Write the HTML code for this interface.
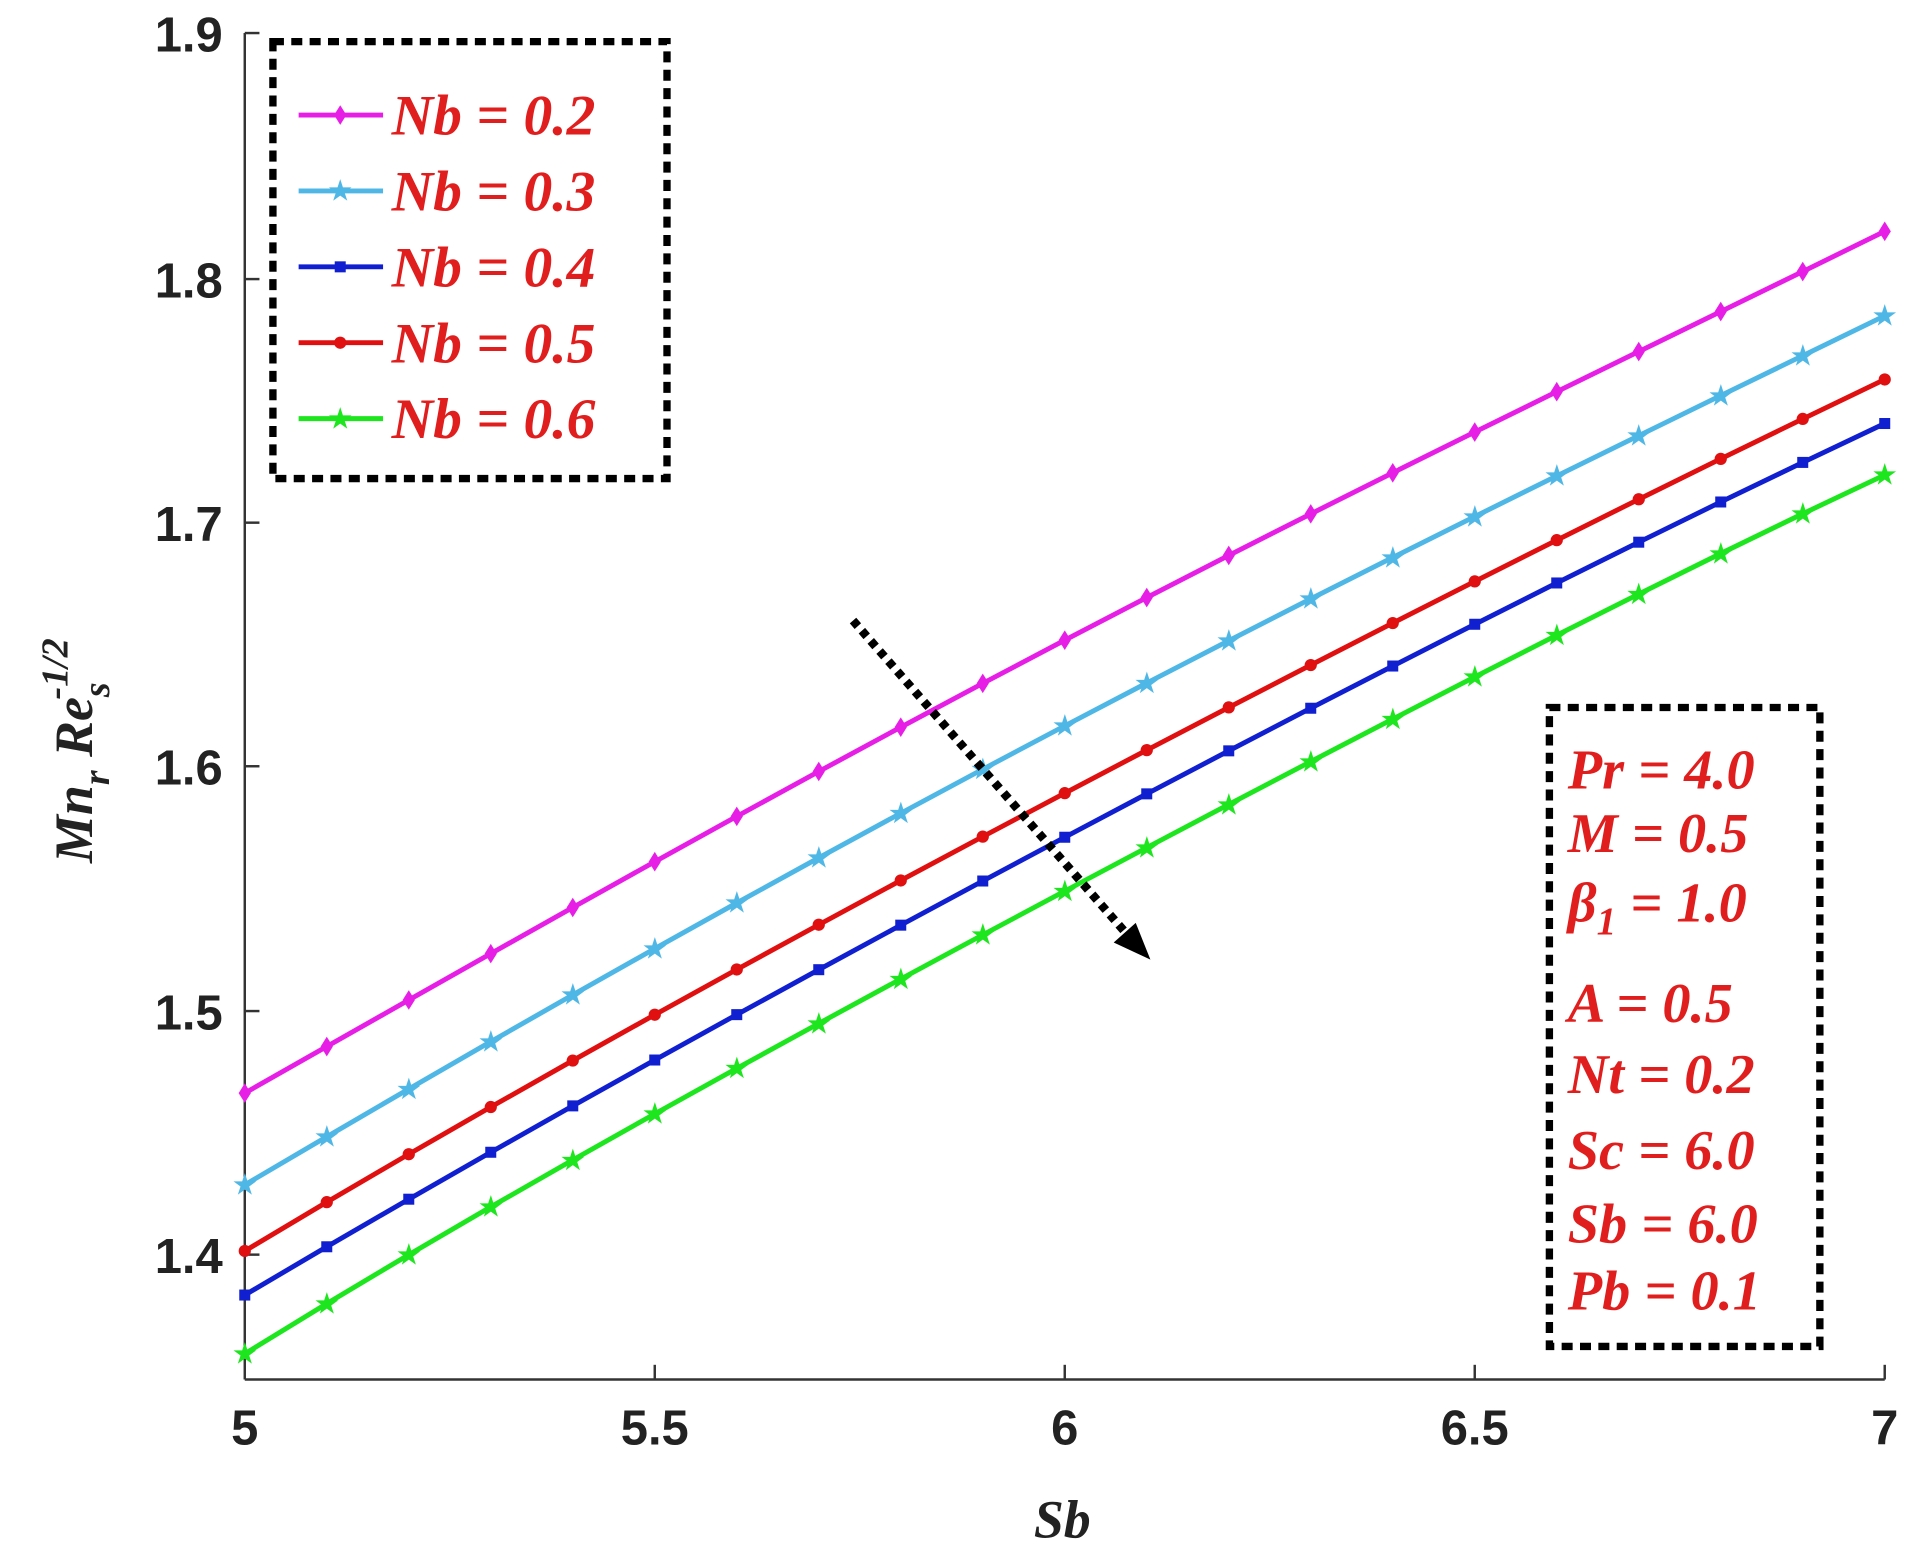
<!DOCTYPE html>
<html><head><meta charset="utf-8">
<style>
html,body{margin:0;padding:0;background:#fff;}
svg{display:block;}
.tk{font-family:"Liberation Sans",sans-serif;font-weight:bold;font-size:40px;fill:#222;}
.lg{font-family:"Liberation Serif",serif;font-weight:bold;font-style:italic;font-size:47px;fill:#e01e1e;}
.pm{font-family:"Liberation Serif",serif;font-weight:bold;font-style:italic;font-size:46px;fill:#e01e1e;}
.ax{font-family:"Liberation Serif",serif;font-weight:bold;font-style:italic;fill:#222;}
</style></head>
<body>
<svg id="c" width="1919" height="1568" viewBox="0 0 1568 1281" preserveAspectRatio="none" xmlns="http://www.w3.org/2000/svg">
<g stroke="#333" stroke-width="2" fill="none">
<line x1="200" y1="27" x2="200" y2="1127"/>
<line x1="200" y1="1127" x2="1540" y2="1127"/>
<line x1="200" y1="27" x2="212" y2="27"/>
<line x1="200" y1="228" x2="212" y2="228"/>
<line x1="200" y1="427" x2="212" y2="427"/>
<line x1="200" y1="626" x2="212" y2="626"/>
<line x1="200" y1="826" x2="212" y2="826"/>
<line x1="200" y1="1025" x2="212" y2="1025"/>
<line x1="535" y1="1127" x2="535" y2="1115"/>
<line x1="870" y1="1127" x2="870" y2="1115"/>
<line x1="1205" y1="1127" x2="1205" y2="1115"/>
<line x1="1540" y1="1127" x2="1540" y2="1115"/>
</g>
<g class="tk" text-anchor="end">
<text x="182" y="42">1.9</text>
<text x="182" y="243">1.8</text>
<text x="182" y="442">1.7</text>
<text x="182" y="641">1.6</text>
<text x="182" y="841">1.5</text>
<text x="182" y="1040">1.4</text>
</g>
<g class="tk" text-anchor="middle">
<text x="200" y="1180">5</text>
<text x="535" y="1180">5.5</text>
<text x="870" y="1180">6</text>
<text x="1205" y="1180">6.5</text>
<text x="1540" y="1180">7</text>
</g>
<text class="ax" x="868" y="1256" text-anchor="middle" font-size="44">Sb</text>
<text class="ax" font-size="44" transform="translate(75,705) rotate(-90)">Mn<tspan font-size="31" dy="14">r</tspan><tspan dy="-14"> Re</tspan><tspan font-size="31" dy="14">s</tspan><tspan font-size="31" dx="-14" dy="-34">-1/2</tspan></text>
<g id="series"></g>
<rect x="223" y="34" width="322" height="357" fill="none" stroke="#000" stroke-width="6" stroke-dasharray="9,6"/>
<g id="leg"></g>
<rect x="1266" y="578" width="221" height="522" fill="#fff" stroke="#000" stroke-width="6" stroke-dasharray="9,6"/>
<g class="pm">
<text x="1281" y="644">Pr = 4.0</text>
<text x="1281" y="696">M = 0.5</text>
<text x="1281" y="753">β<tspan font-size="32" dy="10">1</tspan><tspan dy="-10"> = 1.0</tspan></text>
<text x="1281" y="835">A = 0.5</text>
<text x="1281" y="893">Nt = 0.2</text>
<text x="1281" y="955">Sc = 6.0</text>
<text x="1281" y="1015">Sb = 6.0</text>
<text x="1281" y="1070">Pb = 0.1</text>
</g>
<line x1="697" y1="507" x2="925" y2="768" stroke="#000" stroke-width="7" stroke-dasharray="6,5"/>
<polygon points="940,784 910,770 928,754" fill="#000"/>
</svg>
<script>
var S=[
 {c:"#e61ee6",y:[893,704,523,353,189],m:"d",n:"0.2",o:0},
 {c:"#4fb7e6",y:[968,775,593,422,258],m:"s",n:"0.3",o:1},
 {c:"#e01010",y:[1022,829,648,475,310],m:"c",n:"0.5",o:3},
 {c:"#1020d0",y:[1058,866,684,510,346],m:"q",n:"0.4",o:2},
 {c:"#1ee61e",y:[1106,910,728,553,388],m:"s",n:"0.6",o:4}
];
var ns="http://www.w3.org/2000/svg";
function lag(ys,t){var xs=[0,1,2,3,4],r=0;for(var i=0;i<5;i++){var p=ys[i];for(var j=0;j<5;j++)if(j!=i)p*=(t-xs[j])/(xs[i]-xs[j]);r+=p;}return r;}
function mk(g,type,x,y,c){var e;
 if(type=="d"){e=document.createElementNS(ns,"polygon");e.setAttribute("points",(x)+","+(y-8)+" "+(x+5)+","+y+" "+x+","+(y+8)+" "+(x-5)+","+y);}
 else if(type=="s"){e=document.createElementNS(ns,"text");e.setAttribute("x",x);e.setAttribute("y",y+8);e.setAttribute("text-anchor","middle");e.setAttribute("font-size","24");e.textContent="★";}
 else if(type=="c"){e=document.createElementNS(ns,"circle");e.setAttribute("cx",x);e.setAttribute("cy",y);e.setAttribute("r",5);}
 else {e=document.createElementNS(ns,"rect");e.setAttribute("x",x-4.5);e.setAttribute("y",y-4.5);e.setAttribute("width",9);e.setAttribute("height",9);}
 e.setAttribute("fill",c);g.appendChild(e);}
var g=document.getElementById("series"),L=document.getElementById("leg");
S.forEach(function(s){var pts=[];for(var i=0;i<=20;i++){var t=i/5;pts.push([200+i*67,lag(s.y,t)]);}
 var p=document.createElementNS(ns,"polyline");p.setAttribute("points",pts.map(function(a){return a.join(",")}).join(" "));
 p.setAttribute("fill","none");p.setAttribute("stroke",s.c);p.setAttribute("stroke-width","4");g.appendChild(p);
 pts.forEach(function(a){mk(g,s.m,a[0],a[1],s.c);});
 var ly=94+s.o*62;var l=document.createElementNS(ns,"line");l.setAttribute("x1",244);l.setAttribute("x2",313);l.setAttribute("y1",ly);l.setAttribute("y2",ly);l.setAttribute("stroke",s.c);l.setAttribute("stroke-width",4);L.appendChild(l);
 mk(L,s.m,278,ly,s.c);
 var tx=document.createElementNS(ns,"text");tx.setAttribute("x",320);tx.setAttribute("y",ly+16);tx.setAttribute("class","lg");tx.textContent="Nb = "+s.n;L.appendChild(tx);
});
</script>
</body></html>
